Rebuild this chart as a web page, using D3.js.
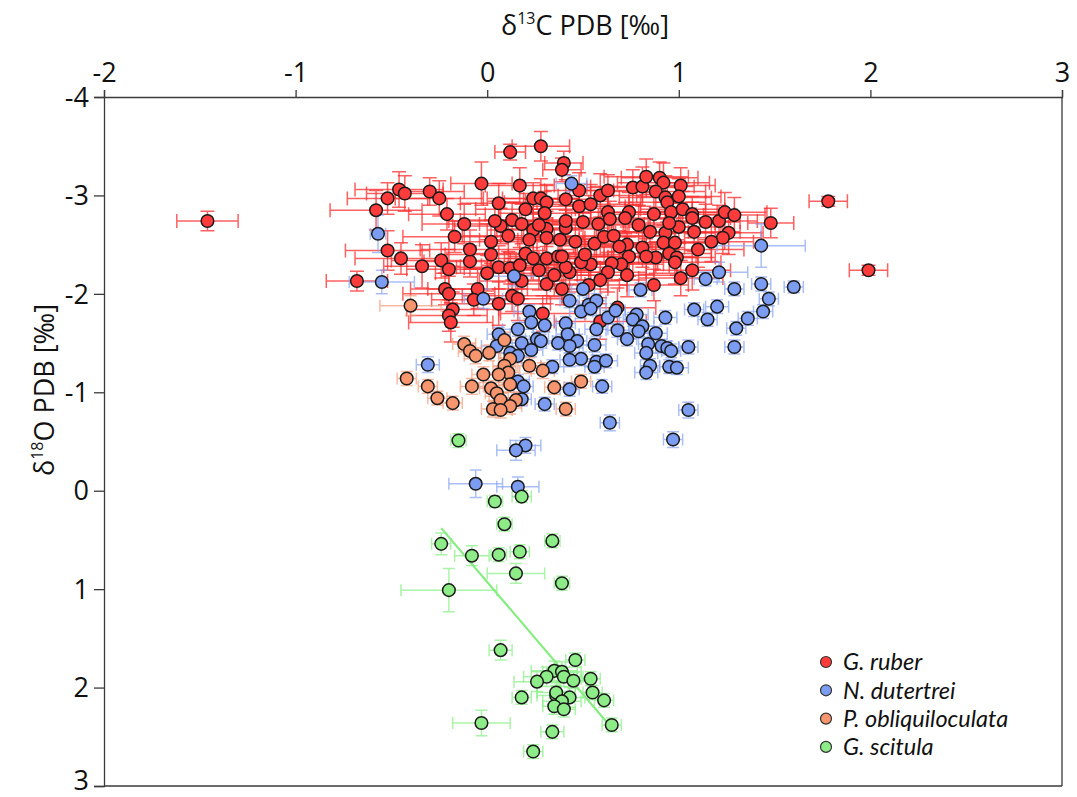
<!DOCTYPE html>
<html>
<head>
<meta charset="utf-8">
<script src="https://cdn.jsdelivr.net/npm/d3@7/dist/d3.min.js"></script>
<style>
  html, body { margin: 0; padding: 0; background: #fff; }
  svg { display: block; font-family: "Open Sans", "Noto Sans", sans-serif; }
</style>
</head>
<body>
<svg id="chart" width="1077" height="797"></svg>
<script>
// δ13C (x) and δ18O (y) of planktonic foraminifera, with 1σ error bars.

const xTicks = [-2, -1, 0, 1, 2, 3];
const xTickLabels = ["-2", "-1", "0", "1", "2", "3"];
const yTicks = [-4, -3, -2, -1, 0, 1, 2, 3];
const yTickLabels = ["-4", "-3", "-2", "-1", "0", "1", "2", "3"];

const seriesNames = ["G. ruber", "N. dutertrei", "P. obliquiloculata", "G. scitula"];

// G. ruber
const ruberX = [-1.46, 1.99, 1.78, 1.48, -0.68, 0.12, 0.28, 0.40, 0.39, -0.46, -0.43, -0.52, -0.58, -0.30, -0.25, -0.21, -0.12, -0.17, -0.03, 0.06, 0.07, 0.02, 0.02, -0.52, -0.45, -0.34, -0.24, -0.20, -0.09, 0.00, 0.06, -0.22, -0.20, -0.05, -0.07, 0.06, -0.18, -0.20, -0.19, 0.17, 0.24, 0.28, 0.31, 0.20, 0.30, 0.13, 0.18, 0.11, 0.31, 0.31, 0.20, 0.24, 0.31, 0.37, 0.12, 0.18, 0.31, 0.13, 0.16, 0.29, 0.41, 0.48, 0.48, 0.54, 0.59, 0.63, 0.76, 0.81, 0.83, 0.90, 0.92, 1.01, 0.88, 0.93, 1.00, 0.94, 0.96, 1.02, 0.74, 0.72, 0.63, 0.64, 0.58, 0.50, 0.41, 0.41, 0.46, 0.56, 0.61, 0.66, 0.73, 0.81, 0.69, 0.85, 0.93, 1.00, 0.95, 1.07, 1.07, 1.08, 1.14, 1.21, 1.24, 1.29, 1.26, 1.23, 1.17, 0.92, 0.98, 0.95, 0.99, 0.98, 0.88, 0.83, 0.74, 0.70, 0.65, 0.63, 0.73, 0.54, 0.49, 0.43, 0.41, 0.39, 1.07, 1.01, 0.87, 0.59, 0.68, 0.39, 0.24, 0.27, 0.38, 0.53, 0.04, 0.22, 0.27, 0.35, 0.17, -0.09, 0.51, 0.59, 0.79, 0.87, 1.10];
const ruberY = [-2.74, -2.24, -2.94, -2.72, -2.13, -3.44, -3.50, -3.33, -3.26, -3.06, -3.02, -2.97, -2.85, -3.04, -2.97, -2.81, -2.71, -2.58, -3.12, -2.92, -2.69, -2.53, -2.40, -2.44, -2.36, -2.28, -2.34, -2.25, -2.33, -2.21, -2.27, -2.05, -2.00, -2.05, -1.94, -1.90, -1.84, -1.78, -1.71, -3.10, -2.97, -2.97, -2.93, -2.86, -2.82, -2.75, -2.71, -2.59, -2.66, -2.57, -2.41, -2.36, -2.36, -2.38, -2.26, -2.13, -2.10, -1.98, -1.95, -1.80, -2.96, -2.89, -3.05, -2.91, -3.00, -3.05, -3.08, -3.09, -3.19, -3.18, -3.13, -3.10, -3.04, -2.98, -2.99, -2.93, -2.83, -2.86, -2.83, -2.77, -2.83, -2.76, -2.71, -2.73, -2.67, -2.74, -2.53, -2.51, -2.58, -2.59, -2.50, -2.47, -2.48, -2.63, -2.62, -2.68, -2.72, -2.81, -2.77, -2.63, -2.73, -2.74, -2.83, -2.80, -2.62, -2.57, -2.53, -2.52, -2.52, -2.41, -2.37, -2.32, -2.37, -2.38, -2.38, -2.30, -2.31, -2.22, -2.19, -2.30, -2.32, -2.22, -2.27, -2.05, -2.24, -2.16, -2.09, -1.72, -1.86, -2.38, -2.65, -2.24, -2.55, -2.09, -2.74, -2.55, -2.70, -2.19, -2.29, -2.45, -2.40, -2.14, -2.70, -2.81, -2.45];
const ruberXErr = [0.16, 0.10, 0.10, 0.12, 0.16, 0.08, 0.15, 0.10, 0.10, 0.23, 0.20, 0.21, 0.24, 0.18, 0.23, 0.20, 0.22, 0.27, 0.16, 0.20, 0.25, 0.22, 0.24, 0.22, 0.24, 0.20, 0.26, 0.22, 0.24, 0.27, 0.22, 0.18, 0.24, 0.26, 0.22, 0.27, 0.24, 0.20, 0.22, 0.18, 0.24, 0.20, 0.22, 0.26, 0.24, 0.27, 0.22, 0.24, 0.26, 0.20, 0.27, 0.24, 0.22, 0.26, 0.24, 0.22, 0.20, 0.26, 0.24, 0.22, 0.22, 0.24, 0.18, 0.26, 0.22, 0.20, 0.24, 0.27, 0.22, 0.20, 0.24, 0.18, 0.26, 0.24, 0.22, 0.20, 0.24, 0.22, 0.26, 0.24, 0.22, 0.20, 0.24, 0.26, 0.22, 0.24, 0.20, 0.26, 0.22, 0.24, 0.27, 0.22, 0.24, 0.20, 0.26, 0.22, 0.24, 0.22, 0.20, 0.24, 0.18, 0.20, 0.22, 0.16, 0.18, 0.20, 0.22, 0.24, 0.26, 0.22, 0.20, 0.24, 0.22, 0.26, 0.24, 0.22, 0.24, 0.20, 0.26, 0.22, 0.24, 0.20, 0.22, 0.24, 0.20, 0.22, 0.18, 0.24, 0.20, 0.22, 0.24, 0.26, 0.22, 0.20, 0.24, 0.26, 0.22, 0.24, 0.20, 0.26, 0.22, 0.24, 0.20, 0.22, 0.24];
const ruberYErr = [0.10, 0.05, 0.05, 0.15, 0.10, 0.08, 0.15, 0.12, 0.12, 0.18, 0.18, 0.16, 0.20, 0.14, 0.18, 0.16, 0.20, 0.16, 0.22, 0.20, 0.18, 0.22, 0.18, 0.20, 0.16, 0.22, 0.18, 0.20, 0.16, 0.18, 0.22, 0.16, 0.18, 0.20, 0.16, 0.22, 0.18, 0.16, 0.20, 0.18, 0.16, 0.20, 0.18, 0.16, 0.22, 0.18, 0.20, 0.16, 0.18, 0.20, 0.16, 0.22, 0.18, 0.20, 0.16, 0.18, 0.20, 0.16, 0.22, 0.18, 0.20, 0.16, 0.18, 0.20, 0.22, 0.16, 0.18, 0.20, 0.18, 0.16, 0.20, 0.18, 0.16, 0.22, 0.18, 0.20, 0.16, 0.18, 0.20, 0.16, 0.22, 0.18, 0.16, 0.20, 0.18, 0.16, 0.22, 0.18, 0.20, 0.16, 0.18, 0.20, 0.16, 0.18, 0.22, 0.16, 0.20, 0.18, 0.16, 0.20, 0.18, 0.16, 0.20, 0.18, 0.22, 0.16, 0.20, 0.18, 0.16, 0.20, 0.18, 0.22, 0.16, 0.18, 0.20, 0.16, 0.18, 0.20, 0.22, 0.16, 0.18, 0.20, 0.18, 0.16, 0.20, 0.18, 0.16, 0.18, 0.20, 0.16, 0.18, 0.20, 0.18, 0.16, 0.20, 0.18, 0.16, 0.22, 0.18, 0.20, 0.16, 0.18, 0.20, 0.22, 0.18];

// N. dutertrei
const dutertreiX = [-0.57, -0.55, -0.02, 0.14, 0.44, 1.43, 1.21, 1.14, 1.29, 1.43, 1.60, 1.47, 1.44, 1.36, 1.20, 1.08, 1.15, 1.30, 1.29, 0.93, 1.05, 0.80, 0.50, 0.43, 0.53, 0.57, 0.49, 0.54, 0.63, 0.67, 0.78, 0.76, 0.81, 0.79, 0.68, 0.73, 0.57, 0.41, 0.42, 0.47, 0.56, 0.43, 0.88, 0.84, 0.83, 0.91, 0.94, 0.96, 0.49, 0.43, 0.57, 0.56, 0.62, 0.85, 0.83, 0.95, 0.99, 0.60, 0.43, 1.05, 0.64, 0.97, 0.22, 0.23, 0.30, 0.16, 0.06, 0.26, 0.18, 0.23, 0.12, 0.05, 0.16, 0.34, -0.31, 0.16, 0.19, 0.18, 0.30, 0.20, 0.15, -0.06, 0.16, 0.37, 0.28];
const dutertreiY = [-2.61, -2.12, -1.95, -2.18, -3.12, -2.49, -2.22, -2.15, -2.05, -2.10, -2.07, -1.95, -1.82, -1.75, -1.87, -1.84, -1.74, -1.65, -1.46, -1.76, -1.46, -2.04, -2.05, -1.93, -1.89, -1.93, -1.82, -1.85, -1.76, -1.83, -1.79, -1.74, -1.67, -1.62, -1.63, -1.54, -1.64, -1.70, -1.59, -1.52, -1.48, -1.47, -1.60, -1.49, -1.40, -1.47, -1.45, -1.42, -1.34, -1.33, -1.31, -1.26, -1.32, -1.27, -1.20, -1.26, -1.25, -1.06, -1.03, -0.82, -0.69, -0.52, -1.82, -1.71, -1.68, -1.64, -1.59, -1.54, -1.50, -1.43, -1.40, -1.47, -1.37, -1.26, -1.28, -1.11, -1.06, -0.93, -0.88, -0.46, -0.41, -0.07, -0.04, -1.50, -1.52];
const dutertreiXErr = [0.04, 0.17, 0.10, 0.15, 0.08, 0.23, 0.15, 0.06, 0.05, 0.05, 0.05, 0.05, 0.05, 0.05, 0.06, 0.05, 0.05, 0.05, 0.05, 0.06, 0.05, 0.06, 0.06, 0.05, 0.06, 0.05, 0.06, 0.05, 0.06, 0.05, 0.06, 0.05, 0.06, 0.05, 0.06, 0.05, 0.06, 0.05, 0.06, 0.05, 0.06, 0.05, 0.06, 0.05, 0.06, 0.05, 0.06, 0.05, 0.06, 0.05, 0.06, 0.05, 0.06, 0.05, 0.06, 0.05, 0.06, 0.05, 0.05, 0.05, 0.05, 0.05, 0.08, 0.06, 0.06, 0.08, 0.06, 0.06, 0.08, 0.06, 0.06, 0.08, 0.06, 0.06, 0.06, 0.06, 0.05, 0.05, 0.05, 0.08, 0.10, 0.14, 0.11, 0.06, 0.06];
const dutertreiYErr = [0.19, 0.12, 0.10, 0.10, 0.08, 0.22, 0.10, 0.07, 0.07, 0.07, 0.06, 0.07, 0.07, 0.07, 0.07, 0.07, 0.07, 0.07, 0.07, 0.07, 0.07, 0.07, 0.07, 0.07, 0.07, 0.07, 0.07, 0.07, 0.07, 0.07, 0.07, 0.07, 0.07, 0.07, 0.07, 0.07, 0.07, 0.07, 0.07, 0.07, 0.07, 0.07, 0.07, 0.07, 0.07, 0.07, 0.07, 0.07, 0.07, 0.07, 0.07, 0.07, 0.07, 0.07, 0.07, 0.07, 0.07, 0.07, 0.07, 0.08, 0.08, 0.08, 0.07, 0.07, 0.07, 0.07, 0.07, 0.07, 0.07, 0.07, 0.07, 0.07, 0.07, 0.07, 0.08, 0.07, 0.07, 0.07, 0.07, 0.08, 0.10, 0.14, 0.10, 0.07, 0.07];

// P. obliquiloculata
const obliquiX = [-0.40, -0.12, -0.09, -0.06, 0.01, 0.09, 0.12, 0.09, 0.11, 0.06, -0.02, 0.22, 0.29, -0.42, -0.31, -0.26, -0.18, -0.08, 0.02, 0.05, 0.12, 0.07, 0.15, 0.12, 0.03, 0.07, 0.35, 0.49, 0.41];
const obliquiY = [-1.88, -1.49, -1.42, -1.37, -1.40, -1.53, -1.34, -1.27, -1.20, -1.18, -1.18, -1.27, -1.22, -1.14, -1.06, -0.94, -0.89, -1.06, -1.04, -0.99, -1.08, -0.92, -0.92, -0.86, -0.83, -0.82, -1.05, -1.11, -0.83];
const obliquiXErr = [0.16, 0.06, 0.06, 0.06, 0.06, 0.06, 0.06, 0.06, 0.06, 0.06, 0.06, 0.06, 0.06, 0.05, 0.05, 0.05, 0.05, 0.06, 0.06, 0.06, 0.06, 0.06, 0.06, 0.06, 0.06, 0.06, 0.05, 0.05, 0.05];
const obliquiYErr = [0.10, 0.08, 0.08, 0.08, 0.08, 0.08, 0.08, 0.08, 0.08, 0.08, 0.08, 0.08, 0.08, 0.07, 0.07, 0.07, 0.07, 0.08, 0.08, 0.08, 0.08, 0.08, 0.08, 0.08, 0.08, 0.08, 0.07, 0.07, 0.07];

// G. scitula
const scitulaX = [-0.15, 0.18, 0.04, 0.09, 0.34, -0.24, -0.08, 0.06, 0.17, 0.15, 0.39, -0.20, 0.07, 0.46, 0.35, 0.39, 0.40, 0.31, 0.26, 0.45, 0.54, 0.55, 0.61, 0.43, 0.36, 0.36, 0.39, 0.35, 0.40, 0.18, 0.65, -0.03, 0.34, 0.24];
const scitulaY = [-0.51, 0.06, 0.11, 0.34, 0.51, 0.54, 0.66, 0.65, 0.62, 0.84, 0.94, 1.01, 1.62, 1.72, 1.83, 1.84, 1.89, 1.89, 1.94, 1.93, 1.91, 2.05, 2.13, 2.10, 2.08, 2.05, 2.14, 2.19, 2.22, 2.10, 2.38, 2.36, 2.45, 2.65];
const scitulaXErr = [0.04, 0.05, 0.04, 0.04, 0.04, 0.05, 0.09, 0.04, 0.05, 0.15, 0.04, 0.25, 0.06, 0.05, 0.12, 0.10, 0.10, 0.12, 0.12, 0.08, 0.05, 0.05, 0.05, 0.08, 0.10, 0.10, 0.10, 0.06, 0.06, 0.05, 0.05, 0.15, 0.06, 0.05];
const scitulaYErr = [0.07, 0.06, 0.06, 0.07, 0.07, 0.11, 0.10, 0.07, 0.07, 0.10, 0.07, 0.22, 0.10, 0.07, 0.10, 0.10, 0.10, 0.10, 0.10, 0.08, 0.07, 0.07, 0.07, 0.10, 0.10, 0.10, 0.10, 0.08, 0.08, 0.07, 0.07, 0.13, 0.07, 0.07];

// G. scitula trend line (end points)
const trendX = [-0.24, 0.65];
const trendY = [0.38, 2.41];

const fills = ["#ff3b3b", "#7b9cf0", "#f7966e", "#8eec88"];
const barColors = ["#ff2c2c", "#86a4f4", "#f79c7a", "#8ef08a"];
const barOpacity = [0.75, 0.7, 0.7, 0.75];
const capSize = [7, 6, 6, 6];

const series = [
  { x: ruberX, y: ruberY, ex: ruberXErr, ey: ruberYErr },
  { x: dutertreiX, y: dutertreiY, ex: dutertreiXErr, ey: dutertreiYErr },
  { x: obliquiX, y: obliquiY, ex: obliquiXErr, ey: obliquiYErr },
  { x: scitulaX, y: scitulaY, ex: scitulaXErr, ey: scitulaYErr }
].map((s, i) => ({
  i,
  name: seriesNames[i],
  points: s.x.map((v, k) => ({ x: v, y: s.y[k], ex: s.ex[k], ey: s.ey[k] }))
}));

const svg = d3.select("#chart");
const x = d3.scaleLinear().domain([-2, 3]).range([104, 1062]);
const y = d3.scaleLinear().domain([-4, 3]).range([97, 786]);

const axisColor = "#3a3a3a";
const textColor = "#111";
const FONT = 27;

// error bars
const bars = svg.append("g");
series.forEach(s => {
  const cap = capSize[s.i];
  const g = bars.append("g")
    .attr("stroke", barColors[s.i])
    .attr("stroke-opacity", barOpacity[s.i])
    .attr("stroke-width", 1.5)
    .attr("fill", "none");
  s.points.forEach(p => {
    const cx = x(p.x), cy = y(p.y);
    const x0 = x(p.x - p.ex), x1 = x(p.x + p.ex);
    const y0 = y(p.y - p.ey), y1 = y(p.y + p.ey);
    const path = d3.path();
    path.moveTo(x0, cy); path.lineTo(x1, cy);
    path.moveTo(x0, cy - cap); path.lineTo(x0, cy + cap);
    path.moveTo(x1, cy - cap); path.lineTo(x1, cy + cap);
    path.moveTo(cx, y0); path.lineTo(cx, y1);
    path.moveTo(cx - cap, y0); path.lineTo(cx + cap, y0);
    path.moveTo(cx - cap, y1); path.lineTo(cx + cap, y1);
    g.append("path").attr("d", path.toString());
  });
});

// trend line
svg.append("line")
  .attr("x1", x(trendX[0])).attr("y1", y(trendY[0]))
  .attr("x2", x(trendX[1])).attr("y2", y(trendY[1]))
  .attr("stroke", "#86ee80").attr("stroke-width", 2.2);

// markers
series.forEach(s => {
  svg.append("g").selectAll("circle")
    .data(s.points)
    .join("circle")
    .attr("cx", d => x(d.x))
    .attr("cy", d => y(d.y))
    .attr("r", 6.3)
    .attr("fill", fills[s.i])
    .attr("stroke", "#1a1a1a")
    .attr("stroke-width", 1.5);
});

// frame
svg.append("line").attr("x1", 1062).attr("x2", 1062).attr("y1", 97).attr("y2", 786)
  .attr("stroke", axisColor).attr("stroke-width", 1.3);
svg.append("line").attr("x1", 104).attr("x2", 1062).attr("y1", 786).attr("y2", 786)
  .attr("stroke", axisColor).attr("stroke-width", 1.3);

// axes
const xAxis = svg.append("g").attr("transform", "translate(0,97)")
  .call(d3.axisTop(x).tickValues(xTicks).tickSize(7).tickPadding(8)
    .tickFormat((d, i) => xTickLabels[i]));
const yAxis = svg.append("g").attr("transform", "translate(104,0)")
  .call(d3.axisLeft(y).tickValues(yTicks).tickSize(10).tickPadding(5)
    .tickFormat((d, i) => yTickLabels[i]));
[xAxis, yAxis].forEach(a => {
  a.select(".domain").attr("stroke", axisColor).attr("stroke-width", 1.3);
  a.selectAll(".tick line").attr("stroke", axisColor).attr("stroke-width", 1.3);
  a.selectAll(".tick text").attr("fill", textColor).attr("font-size", FONT)
    .attr("font-family", "'Open Sans', sans-serif");
});
// the lowest label sits against the bottom edge, so it is nudged up a little
yAxis.selectAll(".tick text").attr("dy", (d, i) => i === yTicks.length - 1 ? "0.12em" : "0.34em");

// axis titles
const xt = svg.append("text").attr("x", 585).attr("y", 35)
  .attr("text-anchor", "middle").attr("font-size", FONT).attr("fill", textColor);
xt.append("tspan").text("δ");
xt.append("tspan").attr("font-size", 16).attr("dy", -11).text("13");
xt.append("tspan").attr("dy", 11).text("C PDB [‰]");

const yt = svg.append("text")
  .attr("transform", "translate(54,390) rotate(-90)")
  .attr("text-anchor", "middle").attr("font-size", FONT).attr("fill", textColor);
yt.append("tspan").text("δ");
yt.append("tspan").attr("font-size", 16).attr("dy", -11).text("18");
yt.append("tspan").attr("dy", 11).text("O PDB [‰]");

// legend
const legend = svg.append("g");
seriesNames.forEach((name, i) => {
  const ly = 662 + i * 28.3;
  legend.append("circle").attr("cx", 826).attr("cy", ly).attr("r", 5.5)
    .attr("fill", fills[i]).attr("stroke", "#333").attr("stroke-width", 1.2);
  legend.append("text").attr("x", 843).attr("y", ly).attr("dy", "0.36em")
    .attr("font-family", "Lato, 'Open Sans', sans-serif")
    .attr("font-size", 23.5).attr("font-style", "italic").attr("fill", textColor)
    .text(name);
});
</script>
</body>
</html>
